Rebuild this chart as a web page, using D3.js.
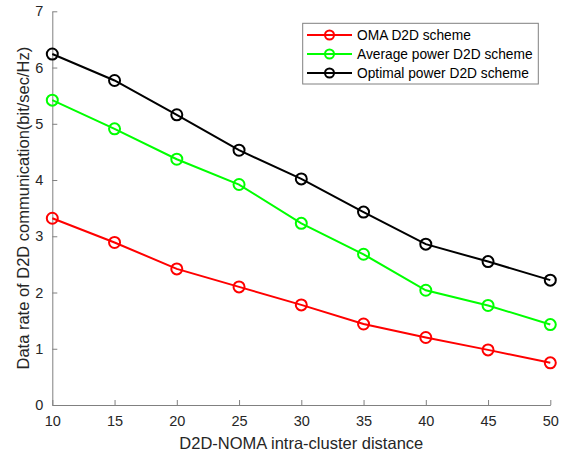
<!DOCTYPE html>
<html><head><meta charset="utf-8">
<script src="https://d3js.org/d3.v7.min.js"></script>
<style>body{margin:0;background:#fff}svg{display:block}</style>
</head><body>
<script>
const distances = [10, 15, 20, 25, 30, 35, 40, 45, 50];
const omaRate = [3.32, 2.89, 2.42, 2.10, 1.78, 1.44, 1.20, 0.98, 0.75];
const avgRate = [5.42, 4.91, 4.37, 3.92, 3.23, 2.68, 2.04, 1.77, 1.43];
const optRate = [6.24, 5.77, 5.16, 4.53, 4.02, 3.43, 2.86, 2.55, 2.22];
const seriesNames = ["OMA D2D scheme", "Average power D2D scheme", "Optimal power D2D scheme"];
const seriesColors = ["#ff0000", "#00ff00", "#000000"];
const xTicks = [10, 15, 20, 25, 30, 35, 40, 45, 50];
const yTicks = [0, 1, 2, 3, 4, 5, 6, 7];

const W = 568, H = 456;
const FONT = "'Liberation Sans', Arial, sans-serif";
const m = {l: 52.3, r: 568 - 550.3, t: 11.3, b: 456 - 405};
const svg = d3.select("body").append("svg").attr("width", W).attr("height", H)
  .style("font-family", FONT);
const x = d3.scaleLinear().domain([10, 50]).range([m.l, W - m.r]);
const y = d3.scaleLinear().domain([0, 7]).range([H - m.b, m.t]);
const axisColor = "#808080", textColor = "#262626";

const gx = svg.append("g").attr("transform", `translate(0,${H - m.b})`)
  .call(d3.axisBottom(x).tickValues(xTicks).tickFormat(d3.format("d")).tickSizeInner(-5).tickSizeOuter(0).tickPadding(11));
const gy = svg.append("g").attr("transform", `translate(${m.l},0)`)
  .call(d3.axisLeft(y).tickValues(yTicks).tickFormat(d3.format("d")).tickSizeInner(-5).tickSizeOuter(0).tickPadding(9));
[gx, gy].forEach(g => {
  g.select(".domain").attr("stroke", axisColor).attr("stroke-width", 1);
  g.selectAll(".tick line").attr("stroke", axisColor);
  g.selectAll(".tick text").attr("fill", textColor).style("font-size", "14.5px").style("font-family", FONT);
});

svg.append("text").attr("x", (m.l + W - m.r) / 2).attr("y", 449).attr("text-anchor", "middle")
  .attr("fill", textColor).style("font-size", "16.5px").text("D2D-NOMA intra-cluster distance");
svg.append("text").attr("transform", `translate(28.5,${(m.t + H - m.b) / 2}) rotate(-90)`).attr("text-anchor", "middle")
  .attr("fill", textColor).style("font-size", "16.5px").text("Data rate of D2D communication(bit/sec/Hz)");

const all = [omaRate, avgRate, optRate];
const line = d3.line().x((d, i) => x(distances[i])).y(d => y(d));
all.forEach((s, k) => {
  svg.append("path").datum(s).attr("d", line).attr("fill", "none")
    .attr("stroke", seriesColors[k]).attr("stroke-width", 2);
  svg.selectAll(null).data(s).enter().append("circle")
    .attr("cx", (d, i) => x(distances[i])).attr("cy", d => y(d)).attr("r", 5.5)
    .attr("fill", "none").attr("stroke", seriesColors[k]).attr("stroke-width", 2);
});

const lg = svg.append("g");
lg.append("rect").attr("x", 302.7).attr("y", 23.3).attr("width", 235.6).attr("height", 60.7)
  .attr("fill", "#fff").attr("stroke", "#808080").attr("stroke-width", 1);
seriesNames.forEach((n, k) => {
  const yy = 35 + k * 19;
  lg.append("line").attr("x1", 307).attr("x2", 352).attr("y1", yy).attr("y2", yy)
    .attr("stroke", seriesColors[k]).attr("stroke-width", 2);
  lg.append("circle").attr("cx", 329.5).attr("cy", yy).attr("r", 4.5)
    .attr("fill", "none").attr("stroke", seriesColors[k]).attr("stroke-width", 2);
  lg.append("text").attr("x", 357).attr("y", yy + 5).attr("fill", "#000")
    .style("font-size", "13.75px").text(n);
});
</script>
</body></html>
